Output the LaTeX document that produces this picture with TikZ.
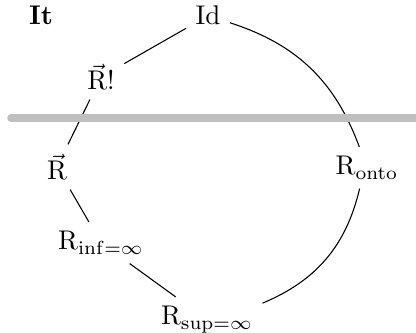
\documentclass[tikz,border=0pt]{standalone}
\usepackage{amsmath,amssymb}
\usetikzlibrary{positioning}
\usepackage{xcolor}
\definecolor{cutgray}{RGB}{191,191,191}

\begin{document}
\begin{tikzpicture}[scale=0.65,lbl/.style={anchor=base,font=\normalsize},edge/.style={thin,black}]
    \useasboundingbox (0,0) rectangle (8.32,6.66);

    \node[lbl,font=\bfseries] (it) at (0.82,6.16) {It};
    \node[lbl] (id) at (4.16,6.16) {Id};
    \node[lbl] (rfact) at (2.02,4.86) {$\vec{\mathrm{R}}!$};
    \node[lbl] (rvec) at (1.14,3.06) {$\vec{\mathrm{R}}$};
    \node[lbl] (ronto) at (7.34,3.16) {$\mathrm{R}_{\mathrm{onto}}$};
    \node[lbl] (rinf) at (2.02,1.66) {$\mathrm{R}_{\mathrm{inf}=\infty}$};
    \node[lbl] (rsup) at (4.14,0.16) {$\mathrm{R}_{\mathrm{sup}=\infty}$};

    \draw[edge] (id) -- (rfact);
    \draw[edge] (rfact) -- (rvec);
    \draw[edge] (rvec) -- (rinf);
    \draw[edge] (rinf) -- (rsup);
    \draw[edge] (id) to[bend left=26] (ronto);
    \draw[edge] (ronto) to[bend left=27] (rsup);

    \draw[line width=2.8pt,cutgray,line cap=round] (0.22,4.3) -- (8.5,4.3);
\end{tikzpicture}
\end{document}
